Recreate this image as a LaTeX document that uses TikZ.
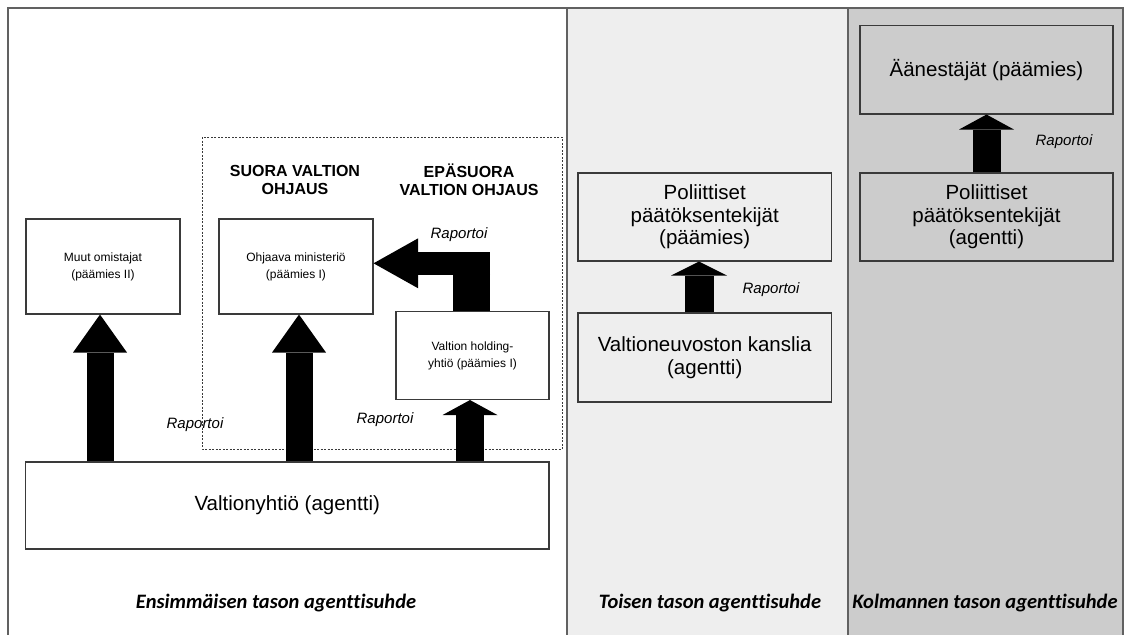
\documentclass[tikz,border=0pt]{standalone}
\usepackage{fontspec}
\setmainfont{Liberation Sans}
\newfontfamily\carlito[Ligatures=NoCommon]{Carlito}
\usetikzlibrary{arrows.meta}
\definecolor{paneltwo}{HTML}{EEEEEE}
\definecolor{panelthree}{HTML}{CCCCCC}
\definecolor{edge}{HTML}{3A3A3A}
\tikzset{
  actor/.style={draw=edge, line width=1.1pt, rectangle, inner sep=0pt, align=center,
    font=\fontsize{20.5}{22.5}\selectfont},
  smallactor/.style={actor, font=\fontsize{12}{17}\selectfont},
  report/.style={font=\fontsize{15}{18}\selectfont\itshape},
  heading/.style={font=\fontsize{16}{18}\selectfont\bfseries, align=center},
  level/.style={font=\carlito\fontsize{20.5}{24}\selectfont\bfseries\itshape},
  frame/.style={draw=edge!80, line width=1.4pt},
  bigarrow/.style={line width=27pt, -{Triangle[width=54pt,length=38pt,line width=0pt]}},
  flatarrow/.style={line width=28pt, -{Triangle[width=55pt,length=15pt,line width=0pt]}},
  bentarrow/.style={line width=23.4pt, -{Triangle[width=50pt,length=44.6pt,line width=0pt]}},
}
\begin{document}
\begin{tikzpicture}[x=1pt, y=-1pt]
  \clip (0,0) rectangle (1126,634);
  % panels
  \fill[paneltwo] (567,8) rectangle (848,640);
  \fill[panelthree] (848,8) rectangle (1123,640);
  \draw[frame] (8,640) |- (1123,8) -- (1123,640);
  \draw[frame] (567,8) -- (567,640);
  \draw[frame] (848,8) -- (848,640);
  \draw[edge, line width=1pt, dash pattern=on 2pt off 1.5pt] (202,137) rectangle (562,449);

  % first level
  \node[smallactor, minimum width=154pt, minimum height=95pt] (muut) at (103,266.5) {Muut omistajat\\(päämies II)};
  \node[smallactor, minimum width=154pt, minimum height=95pt] (ohjaava) at (296,266.5) {Ohjaava ministeriö\\(päämies I)};
  \node[smallactor, minimum width=153pt, minimum height=88pt] (holding) at (472.5,355.5) {Valtion holding-\\yhtiö (päämies I)};
  \node[actor, minimum width=523.5pt, minimum height=87pt] (valtio) at (287.25,505.5) {Valtionyhtiö (agentti)};
  \node[heading] (suora) at (295,180) {SUORA VALTION\\OHJAUS};
  \node[heading] (epasuora) at (469,180) {EPÄSUORA\\VALTION OHJAUS};

  % second and third level
  \node[actor, fill=paneltwo, minimum width=253.5pt, minimum height=88pt] (polit2) at (704.75,217) {Poliittiset\\päätöksentekijät\\(päämies)};
  \node[actor, fill=paneltwo, minimum width=253.5pt, minimum height=89pt] (kanslia) at (704.75,357.5) {Valtioneuvoston kanslia\\(agentti)};
  \node[actor, fill=panelthree, minimum width=253pt, minimum height=88.5pt] (aanest) at (986.5,69.75) {Äänestäjät (päämies)};
  \node[actor, fill=panelthree, minimum width=253pt, minimum height=88pt] (polit3) at (986.5,217) {Poliittiset\\päätöksentekijät\\(agentti)};

  % reporting arrows
  \draw[bigarrow] ([xshift=-187.25pt]valtio.north) -- ([xshift=-3pt]muut.south);
  \draw[bigarrow] ([xshift=11.75pt]valtio.north) -- ([xshift=3pt]ohjaava.south);
  \draw[flatarrow] ([xshift=182.75pt]valtio.north) -- ([xshift=-2.5pt]holding.south);
  \coordinate (turn) at (471.7,251.7);
  \coordinate (elbow) at (490,263.3);
  \draw[line width=36.7pt] (turn |- holding.north) -- (turn);
  \draw[bentarrow] (elbow) -- (elbow -| ohjaava.east);
  \draw[flatarrow, line width=29pt, -{Triangle[width=56pt,length=14pt,line width=0pt]}] ([xshift=-5.75pt]kanslia.north) -- ([xshift=-5.75pt]polit2.south);
  \draw[flatarrow] (polit3.north) -- (aanest.south);

  \node[report] (rap1) at (459,235) {Raportoi};
  \node[report] (rap2) at (195,425) {Raportoi};
  \node[report] (rap3) at (385,420) {Raportoi};
  \node[report] (rap4) at (771,290) {Raportoi};
  \node[report] (rap5) at (1064,141.5) {Raportoi};

  % level captions
  \node[level] (ens) at (276,603) {Ensimmäisen tason agenttisuhde};
  \node[level] (toi) at (710,603) {Toisen tason agenttisuhde};
  \node[level] (kol) at (985,603) {Kolmannen tason agenttisuhde};
\end{tikzpicture}
\end{document}
